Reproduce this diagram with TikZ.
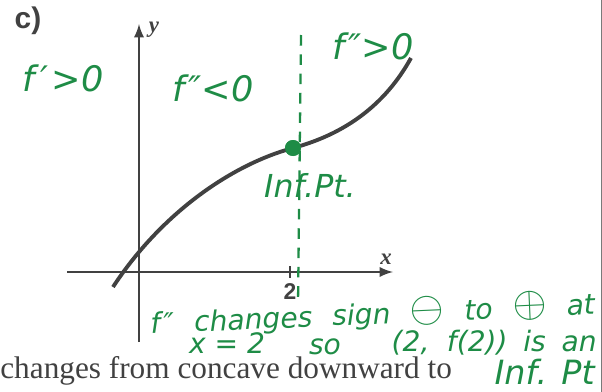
\documentclass[tikz,border=0pt]{standalone}
\usepackage{fontspec}
\setmainfont{Liberation Serif}
\newfontfamily\labelfont{Liberation Sans}
\newfontfamily\handfont{DejaVu Sans}
\usetikzlibrary{arrows, positioning, calc}
\definecolor{pen}{RGB}{30,140,70}
\definecolor{ink}{RGB}{65,65,65}
\newcommand{\circsign}[1]{{\fontsize{24}{24}\selectfont$#1$}}

\begin{document}
\begin{tikzpicture}[x=0.02cm, y=-0.02cm,
        hand/.style={text=pen, inner sep=0, font=\handfont\itshape\fontsize{16}{18}\selectfont},
        big/.style={font=\handfont\itshape\fontsize{20}{22}\selectfont},
        axis/.style={-latex, ink, line width=1.6pt},
        curve/.style={ink, line width=2.2pt},
        tag/.style={ink, inner sep=0}]
        \useasboundingbox (0,0) rectangle (602,392);

        % Axes
        \coordinate (xl) at (67,272);
        \coordinate (xr) at (393,272);
        \coordinate (yb) at (139,342);
        \coordinate (yt) at (139,24);
        \draw[axis] (xl) -- (xr);
        \draw[axis] (yb) -- (yt);
        \draw[ink, line width=1.4pt] (290,266) -- (290,278);
        \node[tag, font=\bfseries\itshape\fontsize{13}{14}\selectfont] (ylab) at (154,30) {y};
        \node[tag, font=\bfseries\itshape\fontsize{13}{14}\selectfont] (xlab) at (386,259) {x};
        \node[tag, font=\labelfont\bfseries\fontsize{13}{14}\selectfont] (two) at (290,292) {2};
        \node[tag, font=\labelfont\bfseries\fontsize{17}{18}\selectfont] (part) at (28,21) {c)};

        % Graph of f and the inflection point
        \coordinate (c0) at (113,287);
        \coordinate (c1) at (411,58);
        \node[circle, fill=pen, minimum size=0.32cm, inner sep=0] (ipt) at (293,148) {};
        \draw[curve] (c0) .. controls (160,215) and (230,165) .. (ipt.center)
            .. controls (345,134) and (385,105) .. (c1);
        \coordinate (dtop) at (301,35);
        \coordinate (dbot) at (298,305);
        \draw[pen, line width=1.3pt, dash pattern=on 6pt off 5pt] (dtop) -- (dbot);
        \node[circle, fill=pen, minimum size=0.32cm, inner sep=0] at (ipt) {};

        % Notes
        \node[hand, big] (fp) at (63,78) {f\kern3pt′\kern2pt>0};
        \node[hand, big] (fpp1) at (213,88) {f\kern2pt″<0};
        \node[hand, big] (fpp2) at (373,46) {f\kern2pt″>0};
        \node[hand, big, font=\handfont\itshape\fontsize{18}{20}\selectfont] (ilab) at (310,185) {Inf.Pt.};
        \node[hand, anchor=west, rotate=2.5] (note1) at (150,324) {\makebox[8.9cm][s]{f\kern2pt″ changes sign \circsign{\ominus} to \circsign{\oplus} at}};
        \node[hand] (xeq) at (227,343) {x = 2};
        \node[hand] (so) at (325,347) {so};
        \node[hand, anchor=east] (pt) at (597,343) {\makebox[4.1cm][s]{(2, f(2)) is an}};
        \node[hand, anchor=east, font=\handfont\itshape\fontsize{19}{21}\selectfont] (note3) at (595,372) {Inf. Pt};

        % Printed text
        \node[tag, anchor=base west, font=\fontsize{17.8}{20}\selectfont] (txt) at (0,378) {changes from concave downward to};
        \draw[ink!70, line width=0.4pt] (601,0) -- (601,392);
    \end{tikzpicture}
\end{document}
